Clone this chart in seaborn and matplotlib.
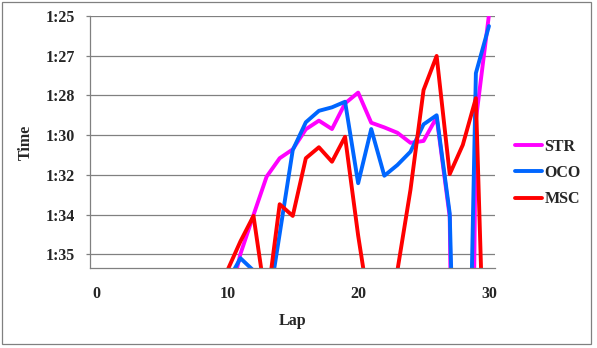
import matplotlib
matplotlib.use("Agg")
import matplotlib.pyplot as plt
from matplotlib.patches import Rectangle
import seaborn as sns
import pandas as pd
import numpy as np

# ---- data (lap times in seconds; values beyond 1:35.8 fall off the chart) ----
laps = list(range(10, 31))
str_times = [97.5, 95.19, 93.52, 91.88, 91.09, 90.71, 89.85, 89.48, 89.84, 88.74, 88.28,
             89.57, 89.77, 90.00, 90.43, 90.35, 89.34, 93.60, 140.0, 89.45, 84.95]
oco_times = [96.4, 95.37, 95.9, 97.9, 94.33, 90.74, 89.55, 89.06, 88.91, 88.67, 92.16,
             89.84, 91.84, 91.38, 90.81, 89.64, 89.25, 93.45, 115.0, 87.45, 85.43]
msc_times = [95.9, 94.65, 93.56, 97.4, 93.06, 93.56, 91.09, 90.62, 91.24, 90.17, 94.40,
             98.0, 99.0, 95.9, 92.44, 88.17, 86.71, 91.77, 90.52, 88.52, 107.0]
drivers = ["STR", "OCO", "MSC"]
colors = ["#FF00FF", "#0066FF", "#FF0000"]
x_tick_labels = ["0", "10", "20", "30"]
y_tick_labels = ["1:25", "1:27", "1:28", "1:30", "1:32", "1:34", "1:35"]

df = pd.DataFrame({
    "Lap": laps * 3,
    "Time": str_times + oco_times + msc_times,
    "Driver": ["STR"] * len(laps) + ["OCO"] * len(laps) + ["MSC"] * len(laps),
})

sns.set_style("white")
plt.rcParams["font.family"] = ["Liberation Serif", "DejaVu Serif"]
plt.rcParams["font.weight"] = "bold"

W, H = 597, 348
fig = plt.figure(figsize=(W / 100, H / 100), dpi=100)
ax = fig.add_axes([90 / W, 1 - 268 / H, 405.5 / W, 252 / H])

sns.lineplot(data=df, x="Lap", y="Time", hue="Driver", hue_order=drivers,
             palette=dict(zip(drivers, colors)), linewidth=2.8, ax=ax,
             estimator=None, sort=True, legend=True)

# y axis: reversed time axis
step = 1.7
yticks = [85 + i * step for i in range(len(y_tick_labels))]
ax.set_ylim(95.79, 85)
ax.set_yticks(yticks)
ax.set_yticklabels(y_tick_labels)
ax.yaxis.grid(True, color="#808080", linewidth=0.9)
ax.xaxis.grid(False)

# x axis: category-style (points at category centres)
ax.set_xlim(-0.5, 30.5)
ax.set_xticks([0, 10, 20, 30])
ax.set_xticklabels(x_tick_labels)
ax.set_xticks([-0.5, 9.5, 19.5, 29.5], minor=True)
ax.tick_params(axis="x", which="major", length=0, pad=13, labelsize=11.5)
ax.tick_params(axis="x", which="minor", length=3.6, width=0.9, color="#808080", direction="out")
ax.tick_params(axis="y", which="major", length=3, width=0.9, color="#808080",
               direction="out", pad=8, labelsize=11.5, left=True)
for lab in ax.get_xticklabels() + ax.get_yticklabels():
    lab.set_fontweight("bold")

for side in ["top", "right"]:
    ax.spines[side].set_visible(False)
for side in ["left", "bottom"]:
    ax.spines[side].set_color("#808080")
    ax.spines[side].set_linewidth(0.9)

ax.set_xlabel("Lap", fontsize=11.5, fontweight="bold")
ax.set_ylabel("Time", fontsize=11.5, fontweight="bold")
ax.xaxis.set_label_coords((293 - 90) / 405.5, -(313 - 268) / 252)
ax.yaxis.set_label_coords((34 - 90) / 405.5, 0.5)

handles, labels = ax.get_legend_handles_labels()
leg = ax.legend(handles, labels, loc="center left",
                bbox_to_anchor=(515 / W, 1 - 173 / H), bbox_transform=fig.transFigure,
                frameon=False, handlelength=1.7, handletextpad=0.15, labelspacing=0.64,
                borderpad=0, borderaxespad=0, prop={"size": 11.5, "weight": "bold"})
for ln in leg.get_lines():
    ln.set_linewidth(2.8)

# outer chart border
fig.patches.append(Rectangle((1.5 / W, 1 - 343.5 / H), 589.5 / W, 342 / H,
                             transform=fig.transFigure, fill=False,
                             edgecolor="#808080", linewidth=0.9))

fig.savefig("out.png", dpi=100)
